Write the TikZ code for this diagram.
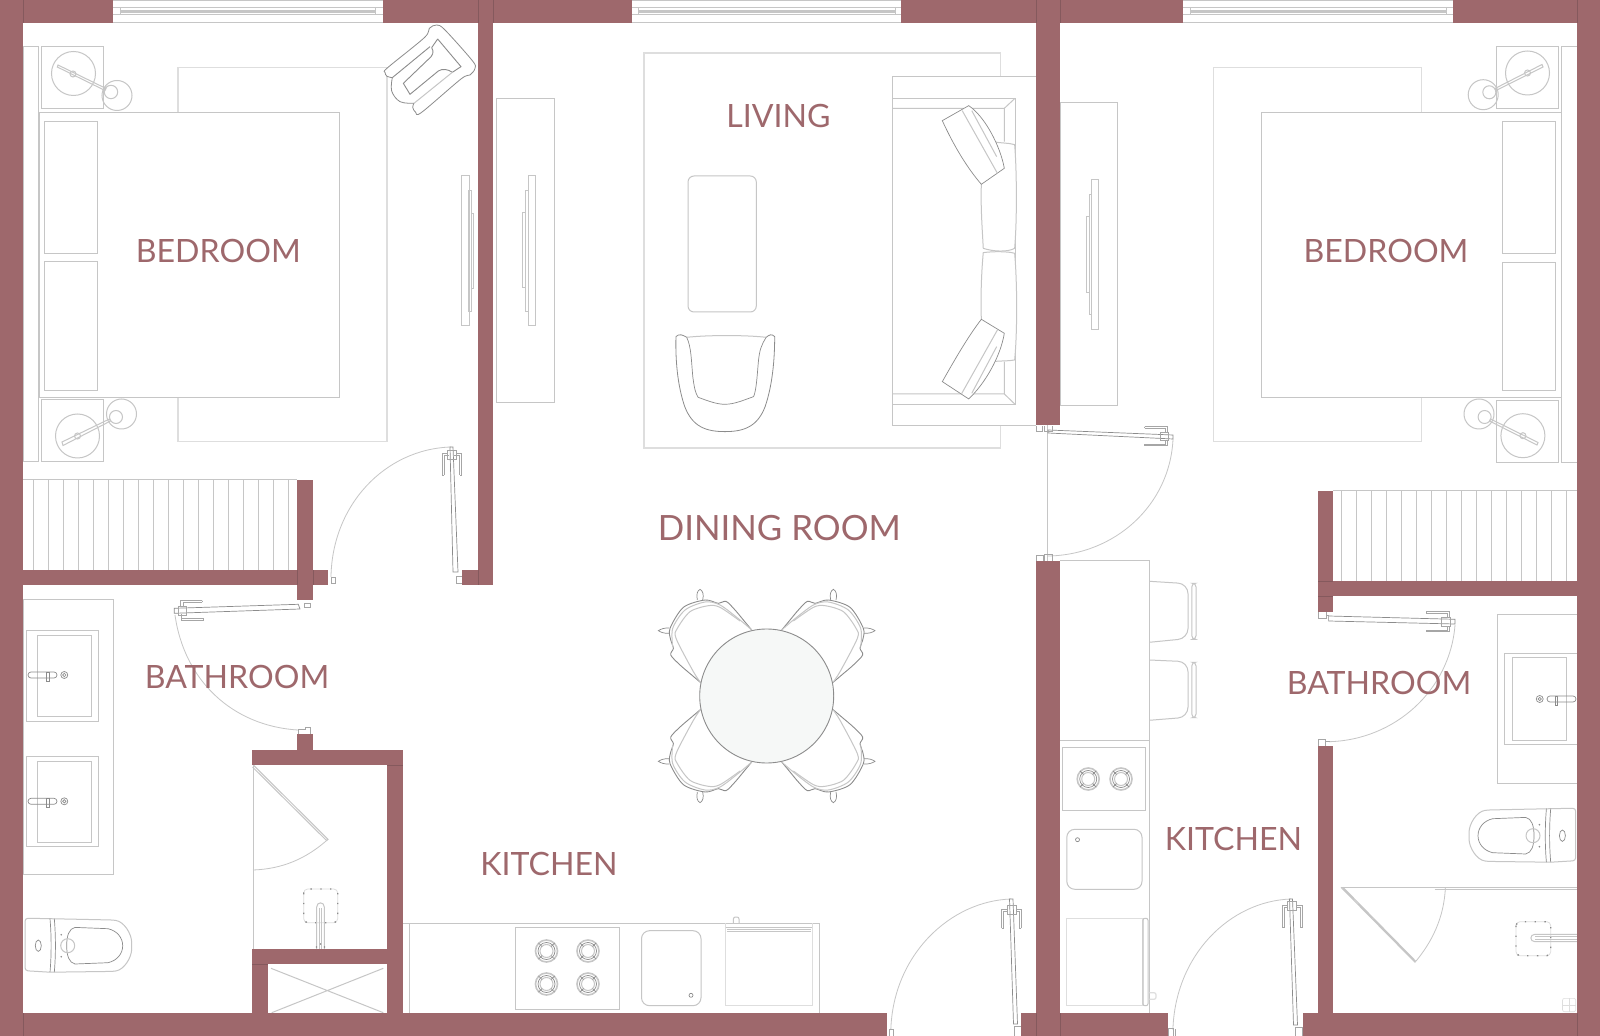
\documentclass[tikz,border=0pt]{standalone}
\usepackage{fontspec}
\setmainfont{Lato}
\definecolor{wallc}{HTML}{9E686C}
\definecolor{walld}{HTML}{85595D}
\definecolor{ln}{HTML}{C6C6C6}
\definecolor{lnl}{HTML}{DEDEDE}
\definecolor{lnd}{HTML}{8C8C8C}
\definecolor{hc}{HTML}{A6A6A6}
\definecolor{tablec}{HTML}{F6F8F7}
\tikzset{
  thin line/.style={draw=ln,line width=0.5pt},
  rugline/.style={draw=lnl,line width=0.6pt},
  dark line/.style={draw=lnd,line width=0.35pt},
  arcl/.style={draw=ln,line width=0.4pt},
  whitefill/.style={fill=white},
  roomlabel/.style={text=wallc,font=\fontsize{16.05}{20}\selectfont,inner sep=0pt},
  biglabel/.style={text=wallc,font=\fontsize{17.4}{20}\selectfont,inner sep=0pt}
}
\newcommand{\wl}[4]{\fill[wallc] (#1,#2) rectangle (#3,#4);}
\newcommand{\fr}[4]{\draw[thin line] (#1,#2) rectangle (#3,#4);}
\newcommand{\frw}[4]{\draw[thin line,whitefill] (#1,#2) rectangle (#3,#4);}
\newcommand{\win}[4]{%
  \fill[white] (#1,0) rectangle (#2,23);
  \draw[thin line] (#1,0.4) -- (#2,0.4) (#1,7.3) -- (#2,7.3) (#1,15) -- (#2,15) (#1,22.7) -- (#2,22.7);
  \draw[thin line] (#3,7.3) rectangle (#4,15);
  \draw[draw=ln,line width=0.7pt] (#3,10.3) -- (#4,10.3) (#3,12.2) -- (#4,12.2);
}
\newcommand{\burner}[2]{\begin{scope}[shift={(#1,#2)}]
  \draw[draw=ln,line width=0.8pt] (0,0) circle[radius=11];
  \draw[dark line] (0,0) circle[radius=8.5];
  \draw[thin line] (0,0) circle[radius=6.5];
  \draw[dark line] (-8,-8) -- (-4.5,-4.5) (8,-8) -- (4.5,-4.5) (-8,8) -- (-4.5,4.5) (8,8) -- (4.5,4.5);
\end{scope}}
\newcommand{\faucet}[3]{\begin{scope}[shift={(#1,#2)},xscale=#3]
  \draw[draw=lnd,line width=.35pt,rounded corners=1.5pt] (0,-3) rectangle (29,3);
  \draw[dark line] (18.5,-3) rectangle (21,6);
  \draw[dark line] (36.3,0) circle[radius=3.5] (36.3,0) circle[radius=1.7];
\end{scope}}
\newcommand{\toiletunit}[3]{\begin{scope}[shift={(#1,#2)},xscale=#3]
  \draw[thin line,rounded corners=1.5pt] (0,-27.5) -- (25,-27) -- (88,-25.7) .. controls (99,-24) and (106.7,-12) .. (106.7,0) .. controls (106.7,12) and (99,24) .. (88,25.7) -- (25,26.5) -- (0,25) -- cycle;
  \draw[dark line] (25,-27) .. controls (26.5,-10) and (26.5,10) .. (25,26.5) (29.3,-27) .. controls (30.8,-10) and (30.8,10) .. (29.3,26.5);
  \draw[dark line] (50,-18.3) -- (83,-17) .. controls (92,-15) and (97.7,-8) .. (97.7,0) .. controls (97.7,8) and (92,15) .. (83,17) -- (50,18.3) .. controls (44,17) and (41.7,10) .. (41.7,0) .. controls (41.7,-10) and (44,-17) .. (50,-18.3);
  \draw[thin line] (42.7,0) circle[radius=7];
  \draw[dark line] (13.3,0) ellipse[x radius=3,y radius=5.7];
  \fill[lnd] (36.3,-11) circle[radius=.9] (36.3,11) circle[radius=.9];
\end{scope}}
\newcommand{\chairunit}[2]{\begin{scope}[shift={(766.7,696)},xscale=#1*.3333,yscale=#2*.3333]
  \draw[dark line,line width=.45pt] plot[smooth,tension=.5] coordinates {(-45,-198) (-70,-228) (-95,-258) (-122,-284) (-145,-278) (-185,-288) (-250,-266) (-290,-203) (-288,-168) (-280,-143) (-288,-123) (-260,-93) (-225,-63) (-198,-40)};
  \draw[thin line] plot[smooth,tension=.5] coordinates {(-45,-198) (-80,-228) (-140,-273) (-185,-282) (-245,-258) (-282,-203) (-282,-148)};
  \draw[thin line] plot[smooth,tension=.5] coordinates {(-80,-225) (-140,-266) (-175,-271) (-230,-253) (-268,-203) (-272,-173) (-220,-73) (-198,-40)};
  \draw[dark line] (-208,-288) .. controls (-212,-305) and (-208,-316) .. (-200,-320) .. controls (-192,-316) and (-188,-305) .. (-192,-288);
  \draw[dark line] (-292,-204) .. controls (-306,-205) and (-318,-201) .. (-325,-196) .. controls (-318,-191) and (-306,-187) .. (-292,-188);
\end{scope}}
\newcommand{\showerpad}[4]{%
  \draw[draw=lnl,line width=.4pt,rounded corners=2pt] (#1,#2) rectangle (#3,#4);
  \draw[draw=lnd,line width=.7pt,dash pattern=on .7pt off 4.2pt,rounded corners=2pt] (#1,#2) rectangle (#3,#4);
}
\begin{document}
\begin{tikzpicture}[x=0.5pt,y=-0.5pt]
\useasboundingbox (0,0) rectangle (1600,1036);
\fill[white] (0,0) rectangle (1600,1036);
%% ---- left bedroom
\draw[rugline] (178,67.3) rectangle (387,441.3);
\frw{39}{112.3}{339}{397.3}
\fr{23}{47}{38.5}{462}
\fr{44.5}{121.5}{97.5}{254}
\fr{44.5}{262}{97.5}{391}
\fr{41.5}{47}{103.5}{109}
\fr{41.5}{400}{103.5}{462}
\draw[thin line] (73.5,73.5) circle[radius=22] (73,74) circle[radius=3] (117,95.5) circle[radius=15] (111,92) circle[radius=6.7];
\draw[thin line] (58,65) -- (57.3,67) -- (105,90.5) -- (106,88.5) -- cycle;
\draw[thin line] (77.5,436) circle[radius=22] (77.5,436) circle[radius=3] (121.5,414) circle[radius=15] (116,417) circle[radius=6.5];
\draw[thin line] (62,442) -- (63,445.5) -- (110.5,421) -- (109.5,419) -- cycle;
%% armchair
\begin{scope}[shift={(375,15)},xscale=.3333,yscale=.3333]
  \draw[dark line,whitefill,line width=.4pt] plot[smooth,tension=.55] coordinates {(52,188) (36,184) (30,172) (38,158) (148,68) (163,40) (185,30) (210,45) (292,137) (300,160) (285,180) (258,192) (140,292) (122,292) (113,277) (117,265)};
  \draw[dark line,line width=.4pt] plot[smooth,tension=.6] coordinates {(52,188) (50,228) (75,260) (117,265)};
  \draw[dark line,line width=.45pt] (52,188) -- (165,95) (188,72) -- (258,155) -- (232,172) (188,72) -- (170,98);
  \draw[dark line,line width=.45pt] (170,98) .. controls (178,110) and (174,122) .. (160,133) -- (85,205) -- (105,238) -- (190,168) .. controls (202,160) and (220,163) .. (232,172);
  \draw[thin line] (117,265) -- (232,172);
\end{scope}
%% tv left
\begin{scope}[xscale=.3333,yscale=.3333]
  \draw[thin line] (1384,527) rectangle (1408,978) (1406,572) rectangle (1414,935) (1414,640) rectangle (1422,865);
\end{scope}
%% ---- living
\fr{496.5}{99}{554.6}{403}
\fr{528}{176}{535.5}{326}
\fr{525.5}{191}{528}{312}
\fr{522.5}{213}{525.5}{288}
\draw[rugline] (644,53) rectangle (1000.5,448);
\draw[thin line,rounded corners=3pt] (688,176) rectangle (756.3,312);
\begin{scope}[shift={(480,0)},xscale=.3827,yscale=.3333]
  \draw[thin line,whitefill] (1453,229) -- (1078,229) -- (1078,1277) -- (1453,1277);
  \draw[thin line] (1078,295) -- (1398,295) -- (1398,1213) -- (1078,1213);
  \draw[thin line] (1078,325) -- (1370,325) -- (1370,425) (1370,325) -- (1398,295);
  \draw[thin line] (1078,1182) -- (1370,1182) -- (1370,1085) (1370,1182) -- (1398,1213);
  \draw[thin line,whitefill] (1340,425) .. controls (1360,430) and (1380,428) .. (1397,434) .. controls (1402,500) and (1404,650) .. (1397,745) .. controls (1380,757) and (1340,755) .. (1315,745) .. controls (1312,680) and (1308,620) .. (1310,553) -- cycle;
  \draw[thin line,whitefill] (1315,758) .. controls (1340,754) and (1380,754) .. (1397,760) .. controls (1404,850) and (1404,1000) .. (1397,1080) .. controls (1380,1084) and (1360,1082) .. (1340,1085) -- (1310,960) .. controls (1308,890) and (1310,820) .. (1315,758) -- cycle;
  \draw[dark line,whitefill] (1208,362) -- (1277,317) .. controls (1320,350) and (1360,440) .. (1370,505) -- (1310,553) .. controls (1270,500) and (1235,430) .. (1208,362) -- cycle;
  \draw[thin line] (1260,332) -- (1352,520) (1285,332) -- (1350,470);
  \draw[dark line,whitefill] (1208,1145) .. controls (1240,1080) and (1275,1010) .. (1310,958) -- (1370,1000) .. controls (1360,1070) and (1320,1150) .. (1277,1197) -- cycle;
  \draw[thin line] (1258,1182) -- (1352,990) (1285,1180) -- (1350,1040);
  %% armchair
  \draw[dark line,line width=.4pt] (540,1012) .. controls (530,1005) and (520,1000) .. (512,1010) .. controls (510,1100) and (520,1170) .. (535,1220) .. controls (555,1280) and (590,1295) .. (640,1295) .. controls (690,1295) and (725,1280) .. (745,1220) .. controls (760,1170) and (770,1100) .. (770,1010) .. controls (762,1000) and (755,1005) .. (748,1012);
  \draw[thin line] (540,1012) .. controls (600,1005) and (690,1005) .. (748,1012);
  \draw[dark line] (540,1012) .. controls (552,1040) and (552,1080) .. (556,1130) .. controls (560,1165) and (563,1180) .. (570,1192) .. controls (600,1205) and (620,1213) .. (640,1213) .. controls (665,1213) and (690,1200) .. (715,1190) .. controls (722,1170) and (724,1130) .. (727,1090) .. controls (730,1050) and (735,1035) .. (748,1012);
\end{scope}
%% ---- dining
\chairunit{1}{1}
\chairunit{-1}{1}
\chairunit{1}{-1}
\chairunit{-1}{-1}
\draw[fill=tablec,draw=lnd,line width=.45pt] (766.7,696) circle[radius=67];
%% ---- left closet
\foreach \i in {0,...,17} {\draw[thin line] ({33.3+15*\i},480) -- ({33.3+15*\i},570);}
\draw[thin line] (23,480) -- (297,480);
%% ---- left bath
\fr{23}{599.5}{113.3}{874.5}
\fr{26.7}{631}{98.7}{721.5}
\fr{37.3}{635.3}{91.7}{716.3}
\faucet{28}{675}{1}
\fr{26.7}{756.3}{98.7}{846.3}
\fr{37.3}{761.3}{91.7}{842}
\faucet{28}{801.3}{1}
\toiletunit{25}{945.7}{1}
%% shower left
\draw[thin line] (253,766) -- (253,949);
\draw[thin line] (253.3,765) -- (328,839.3) -- (326.5,840.5) -- (252.5,767);
\draw[arcl] (328,839.3) .. controls (306,859) and (282,869) .. (253,870);
\showerpad{303.7}{889}{337.7}{922.7}
\draw[thin line] (316.7,949) -- (316.7,907) .. controls (316.7,901.5) and (324.3,901.5) .. (324.3,907) -- (324.3,949);
\draw[thin line] (319.2,908) -- (319.2,949) (321.8,908) -- (321.8,949);
\fill[lnd] (316.5,947) circle[radius=.9] (324.5,947) circle[radius=.9] (320.5,944) circle[radius=.9];
\draw[thin line] (271,968.3) -- (383.3,1012.7) (383.3,968.3) -- (271.7,1012.7);
%% ---- kitchen bottom
\draw[thin line] (403,923.3) -- (819.3,923.3) -- (819.3,1013) (409,923.3) -- (409,1013);
\fr{515}{927.3}{619}{1009.3}
\burner{546.5}{951}
\burner{588}{951}
\burner{546.5}{984}
\burner{588}{984}
\draw[thin line,rounded corners=4pt] (641.5,930.7) rectangle (701,1005.7);
\draw[dark line] (691,995.3) circle[radius=2];
\draw[rugline] (725.6,923.3) rectangle (812.3,1005.7);
\draw[thin line] (725.6,923.3) -- (812.3,923.3) (725.6,927.7) -- (812.3,927.7) (727,929.3) -- (811,929.3) (727,931.7) -- (811,931.7);
\draw[thin line,rounded corners=1pt] (733.4,923) -- (733.4,917) -- (739,917) -- (739,923);
%% ---- right bedroom
\draw[rugline] (1213.6,67.3) rectangle (1421.8,441.3);
\fr{1060}{102.3}{1117.5}{406}
\fr{1091}{179.3}{1098.6}{329.7}
\fr{1089}{194.3}{1091}{314.7}
\fr{1086}{217}{1089}{292.3}
\frw{1261.4}{112.3}{1561.4}{397.3}
\fr{1561.4}{46.3}{1577}{462.3}
\fr{1502.5}{121.3}{1555.4}{253.3}
\fr{1502.5}{262.3}{1555.4}{390.7}
\fr{1496.4}{46.3}{1558.6}{108.3}
\fr{1496.4}{400.3}{1558.6}{462.3}
\draw[thin line] (1527.5,73) circle[radius=22] (1527.5,73) circle[radius=3] (1483.2,94.7) circle[radius=15] (1489.3,92.3) circle[radius=6.5];
\draw[thin line] (1542,64.5) -- (1543,67) -- (1496,90.5) -- (1495,88.5) -- cycle;
\draw[thin line] (1522.9,435.7) circle[radius=22] (1522.9,435.7) circle[radius=3] (1479,414) circle[radius=15] (1484.6,417) circle[radius=6.5];
\draw[thin line] (1538,442.5) -- (1537,445) -- (1489.5,421) -- (1490.5,419) -- cycle;
%% right closet
\foreach \i in {0,...,15} {\draw[thin line] ({1341.8+15*\i},491) -- ({1341.8+15*\i},581);}
\draw[thin line] (1333,491) -- (1577,491);
%% ---- right kitchen
\draw[thin line] (1060,560.7) -- (1149.3,560.7) -- (1149.3,1013) (1060,740.7) -- (1149.3,740.7);
\draw[thin line,rounded corners=5pt] (1149.3,581.3) -- (1188,583.7) -- (1188,638.5) -- (1149.3,642.3);
\draw[thin line,rounded corners=1.8pt] (1191.8,583.3) rectangle (1196,639.3);
\draw[thin line,rounded corners=5pt] (1149.3,660) -- (1188,661.7) -- (1188,717.2) -- (1149.3,720.3);
\draw[thin line,rounded corners=1.8pt] (1191.8,662.3) rectangle (1196,717.7);
\fr{1062.5}{747.3}{1145.7}{810.7}
\burner{1088.2}{779}
\burner{1121}{779}
\draw[thin line,rounded corners=4pt] (1066.8,829.3) rectangle (1142,889.3);
\draw[dark line] (1077.5,839.7) circle[radius=2];
\draw[rugline] (1066.8,918.3) rectangle (1142.9,1005.7);
\draw[thin line,rounded corners=1pt] (1142.9,918.3) rectangle (1148,1005.7);
\draw[rugline,rounded corners=1pt] (1149.3,992.7) -- (1156,992.7) -- (1156,999.3) -- (1149.3,999.3);
%% ---- right bath
\fr{1497.5}{614.7}{1577}{783.7}
\fr{1504.3}{654}{1577}{744.3}
\fr{1512.5}{658}{1566.8}{740.3}
\faucet{1576}{699}{-1}
\toiletunit{1575.7}{835.7}{-1}
\draw[thin line] (1340.7,887) -- (1577,887) (1434.6,889) -- (1577,889);
\draw[thin line] (1341,887.3) -- (1415,962.3) (1343,887.3) -- (1415.5,961);
\draw[arcl] (1415,962.3) .. controls (1432,942) and (1444,918) .. (1445.4,887.3);
\showerpad{1516}{921.7}{1550.7}{955.7}
\draw[thin line] (1577,934.3) -- (1535,934.3) .. controls (1529.5,934.3) and (1529.5,941.7) .. (1535,941.7) -- (1577,941.7);
\draw[thin line] (1535,936.8) -- (1577,936.8) (1535,939.2) -- (1577,939.2);
\draw[draw=lnl,line width=.3pt,rounded corners=1pt] (1562.5,998.3) rectangle (1575.7,1011.7);
\draw[draw=lnl,line width=.3pt] (1569,998.3) -- (1569,1011.7) (1562.5,1005) -- (1575.7,1005);
%% ---- walls
\wl{0}{0}{23}{1036}
\wl{0}{0}{113}{23}
\wl{383}{0}{632}{23}
\wl{901}{0}{1183}{23}
\wl{1453}{0}{1600}{23}
\wl{1577}{0}{1600}{1036}
\wl{478}{0}{493}{585}
\wl{462}{570}{493}{585}
\wl{23}{570}{328}{585}
\wl{297.3}{480}{313}{600}
\wl{297.3}{734}{313}{750}
\wl{252}{750}{403}{765}
\wl{387}{750}{403}{1013}
\wl{252}{949}{388}{964}
\wl{252}{949}{268}{1013}
\wl{0}{1013}{887}{1036}
\wl{1021}{1013}{1168}{1036}
\wl{1302.5}{1013}{1600}{1036}
\wl{1036}{0}{1060}{425.5}
\wl{1036}{561}{1060}{1036}
\wl{1318}{491}{1333}{612}
\wl{1318}{581}{1577}{596}
\wl{1318}{746}{1333}{1013}
\draw[draw=walld,line width=.25pt] (23,0) -- (23,23) (478,0) -- (478,23) (493,0) -- (493,23) (1036,0) -- (1036,23) (1060,0) -- (1060,23) (1577,0) -- (1577,23) (23,1013) -- (23,1036) (1577,1013) -- (1577,1036) (1036,1013) -- (1036,1036) (1060,1013) -- (1060,1036) (478,570) -- (478,585) (297.3,570) -- (297.3,585) (313,570) -- (313,585) (1318,596) -- (1333,596) (1318,581) -- (1333,581) (387,765) -- (403,765) (252,964) -- (268,964);
%% ---- windows
\win{113}{383}{120.3}{375.7}
\win{632}{901}{638.8}{895.2}
\win{1183}{1453}{1190}{1446}
%% ---- door arcs
\draw[arcl] (451,447) .. controls (385,449) and (332,505) .. (331,577);
\draw[arcl] (175,615) .. controls (184,680) and (232,726) .. (298,730);
\draw[arcl] (1011,899) .. controls (950,901) and (893,955) .. (890.8,1030);
\draw[arcl] (1173,439) .. controls (1170,505) and (1115,555) .. (1048,556);
\draw[arcl] (1455,625) .. controls (1450,690) and (1395,740) .. (1329,741.7);
\draw[arcl] (1291,899) .. controls (1230,901) and (1175,955) .. (1172.9,1030);
\draw[arcl] (1047.7,425.5) -- (1047.7,561);
%% ---- door leaves and handles
\begin{scope}[thin line/.style={draw=hc,line width=.45pt}]
%% left bedroom door
\draw[dark line,whitefill] (450,447) -- (453,447) -- (458,572) -- (453,572) -- cycle;
\draw[thin line] (442,475) -- (442,453.5) -- (447,453.5) (444,475) -- (444,455.5) -- (449,455.5) (442,475) -- (444,475);
\draw[thin line] (461.5,475) -- (461.5,453.5) -- (456,453.5) (459.5,475) -- (459.5,455.5) -- (454,455.5) (461.5,475) -- (459.5,475);
\draw[thin line] (447,450) rectangle (456,459);
\draw[thin line] (331,577) -- (331,583) -- (335,583) -- (335,577) -- cycle;
\draw[thin line] (462,576) -- (456,576) -- (456,583) -- (462,583);
%% left bathroom door
\draw[dark line,whitefill] (174.3,608.3) -- (298.3,604.3) -- (300,609) -- (174.3,613.3) -- cycle;
\draw[thin line] (202.3,600.7) -- (180.5,600.7) -- (180.5,606) (202.3,602.5) -- (183,602.5) -- (183,606) (202.3,600.7) -- (202.3,602.5);
\draw[thin line] (203.3,618.5) -- (181,618.5) -- (181,614) (203.3,620.7) -- (181,620.7) -- (181,618.5) (203.3,618.5) -- (203.3,620.7);
\draw[thin line] (178.3,606.7) rectangle (186.7,615);
\draw[thin line] (304,603) -- (310.7,603) -- (310.7,607) -- (304,607) -- cycle;
\draw[thin line] (298,734) -- (298,729) -- (305,729) -- (305,727) -- (310.5,727) -- (310.5,734);
%% central entry door
\draw[dark line,whitefill] (1009.5,899) -- (1013,899) -- (1017.5,1024) -- (1013.5,1024) -- cycle;
\draw[thin line] (1001.5,928) -- (1001.5,909) -- (1007,909) (1003.5,928) -- (1003.5,911) -- (1007,911) (1001.5,928) -- (1003.5,928);
\draw[thin line] (1021,928) -- (1021,909) -- (1016,909) (1019,928) -- (1019,911) -- (1016,911) (1021,928) -- (1019,928);
\draw[thin line] (1007,905) rectangle (1016,914);
\draw[thin line] (889.5,1036) -- (889.5,1029) -- (893,1029) -- (893,1036);
\draw[thin line] (1021,1026) -- (1014.5,1026) -- (1014.5,1036) -- (1021,1036);
%% wall gap door (bedroom)
\draw[dark line,whitefill] (1048,430) -- (1173,435) -- (1173,439) -- (1048,433) -- cycle;
\draw[thin line] (1144.6,426.7) -- (1167,426.7) -- (1167,432) (1144.6,428.5) -- (1165,428.5) -- (1165,432) (1144.6,426.7) -- (1144.6,428.5);
\draw[thin line] (1144.6,445.7) -- (1167,445.7) -- (1167,440) (1144.6,444) -- (1165,444) -- (1165,440) (1144.6,445.7) -- (1144.6,444);
\draw[thin line] (1160,432) rectangle (1168,440);
\draw[thin line] (1036,426) -- (1036,431) -- (1042,431) -- (1042,426) (1044,426) -- (1044,431) -- (1052,431) -- (1052,426);
\draw[thin line] (1036,560.7) -- (1036,555) -- (1043,555) -- (1043,560.7) (1044,560.7) -- (1044,554) -- (1052,554) -- (1052,560.7);
%% right bathroom door
\draw[dark line,whitefill] (1328.6,616) -- (1455,619.3) -- (1455,624) -- (1328.6,621) -- cycle;
\draw[thin line] (1426.4,611.7) -- (1449,611.7) -- (1449,617) (1426.4,613.5) -- (1447,613.5) -- (1447,617) (1426.4,611.7) -- (1426.4,613.5);
\draw[thin line] (1426.4,631.7) -- (1449,631.7) -- (1449,626) (1426.4,630) -- (1447,630) -- (1447,626) (1426.4,631.7) -- (1426.4,630);
\draw[thin line] (1441,617) rectangle (1450,626);
\draw[thin line] (1318,612.5) -- (1318,618.3) -- (1326,618.3) -- (1326,612.5) (1326,615) -- (1329,615);
\draw[thin line] (1318.6,746) -- (1318.6,739) -- (1325.7,739) -- (1325.7,746) (1325.7,741.7) -- (1330,741.7);
%% right entry door
\draw[dark line,whitefill] (1289.5,899) -- (1292.5,899) -- (1297.5,1025) -- (1293.5,1025) -- cycle;
\draw[thin line] (1282,927.7) -- (1282,905.5) -- (1287,905.5) (1284,927.7) -- (1284,907.5) -- (1287,907.5) (1282,927.7) -- (1284,927.7);
\draw[thin line] (1302.5,927.7) -- (1302.5,905) -- (1296,905) (1300.5,927.7) -- (1300.5,907) -- (1296,907) (1302.5,927.7) -- (1300.5,927.7);
\draw[thin line] (1287,901) rectangle (1296,910);
\draw[thin line] (1168.6,1036) -- (1168.6,1028) -- (1173,1028) -- (1173,1036) (1175,1036) -- (1175,1029);
\draw[thin line] (1295,1036) -- (1295,1027) -- (1302.5,1027) -- (1302.5,1036);
\end{scope}
%% ---- labels
\node[roomlabel] (bedl) at (218.3,251) {BEDROOM};
\node[roomlabel] (bedr) at (1386,251) {BEDROOM};
\node[roomlabel] (liv) at (778.5,116) {LIVING};
\node[biglabel] (din) at (779.3,528) {DINING ROOM};
\node[roomlabel] (bathl) at (237,676.7) {BATHROOM};
\node[roomlabel] (bathr) at (1379,682.7) {BATHROOM};
\node[roomlabel] (kitl) at (549,864) {KITCHEN};
\node[roomlabel] (kitr) at (1233.4,838.7) {KITCHEN};
\end{tikzpicture}
\end{document}
